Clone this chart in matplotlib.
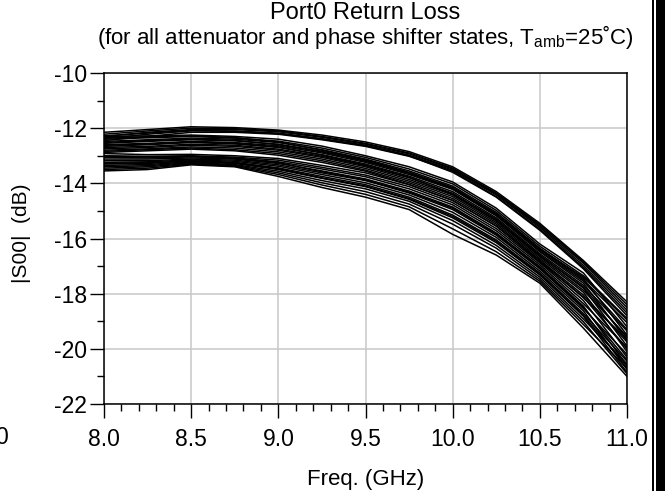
import numpy as np
import matplotlib
matplotlib.use('Agg')  # non-GUI backend
import matplotlib.pyplot as plt
from matplotlib.patches import Rectangle

plt.rcParams['font.family'] = ['Liberation Sans', 'DejaVu Sans']
plt.rcParams['mathtext.fontset'] = 'custom'
plt.rcParams['mathtext.rm'] = 'Liberation Sans'
plt.rcParams['axes.unicode_minus'] = False

# frequency points (GHz)
freq = [8.0, 8.25, 8.5, 8.75, 9.0, 9.25, 9.5, 9.75, 10.0, 10.25, 10.5, 10.75, 11.0]

# top band of states (|S00| in dB)
top_band = [
    [-12.15, -12.05, -11.95, -11.98, -12.07, -12.25, -12.50, -12.85, -13.40, -14.30, -15.45, -16.80, -18.30],
    [-12.22, -12.10, -12.00, -12.02, -12.10, -12.30, -12.55, -12.90, -13.45, -14.35, -15.50, -16.85, -18.40],
    [-12.30, -12.15, -12.05, -12.05, -12.13, -12.33, -12.58, -12.93, -13.48, -14.38, -15.55, -16.90, -18.50],
    [-12.38, -12.22, -12.10, -12.10, -12.18, -12.38, -12.62, -12.98, -13.52, -14.42, -15.60, -16.98, -18.60],
    [-12.45, -12.30, -12.15, -12.15, -12.22, -12.42, -12.66, -13.02, -13.56, -14.48, -15.66, -17.05, -18.70],
    [-12.28, -12.18, -12.08, -12.12, -12.20, -12.40, -12.64, -13.00, -13.60, -14.50, -15.70, -17.10, -18.80],
]

# upper part of the main bundle
upper_group = [
    [-12.30, -12.28, -12.25, -12.30, -12.40, -12.65, -13.00, -13.40, -13.95, -14.90, -16.20, -17.25, -19.20],
    [-12.40, -12.35, -12.30, -12.36, -12.47, -12.72, -13.06, -13.48, -14.02, -14.98, -16.28, -17.35, -18.90],
    [-12.48, -12.42, -12.36, -12.40, -12.52, -12.78, -13.12, -13.55, -14.10, -15.05, -16.35, -17.45, -19.50],
    [-12.55, -12.48, -12.42, -12.46, -12.58, -12.84, -13.18, -13.62, -14.16, -15.12, -16.40, -17.50, -19.05],
    [-12.60, -12.55, -12.48, -12.52, -12.64, -12.90, -13.24, -13.68, -14.22, -15.18, -16.48, -17.62, -19.70],
    [-12.66, -12.60, -12.52, -12.57, -12.70, -12.96, -13.30, -13.74, -14.30, -15.25, -16.55, -17.70, -19.35],
    [-12.70, -12.66, -12.58, -12.62, -12.76, -13.02, -13.36, -13.80, -14.36, -15.30, -16.60, -17.80, -19.90],
    [-12.75, -12.70, -12.62, -12.66, -12.80, -13.06, -13.40, -13.86, -14.42, -15.36, -16.66, -17.88, -19.55],
    [-12.80, -12.75, -12.68, -12.72, -12.86, -13.12, -13.46, -13.92, -14.48, -15.42, -16.72, -17.95, -20.10],
    [-12.84, -12.78, -12.72, -12.78, -12.92, -13.18, -13.52, -13.98, -14.55, -15.48, -16.78, -18.05, -19.75],
    [-12.88, -12.82, -12.76, -12.82, -12.98, -13.24, -13.56, -14.04, -14.62, -15.55, -16.85, -18.12, -20.00],
    [-12.52, -12.45, -12.40, -12.44, -12.60, -12.86, -13.20, -13.64, -14.20, -15.15, -16.45, -17.55, -19.30],
    [-12.35, -12.32, -12.28, -12.34, -12.50, -12.80, -13.15, -13.60, -14.15, -15.10, -16.38, -17.40, -18.95],
    [-12.62, -12.58, -12.50, -12.55, -12.68, -12.98, -13.34, -13.78, -14.40, -15.35, -16.62, -17.76, -19.60],
]

# lower part of the main bundle
lower_group = [
    [-12.92, -12.96, -12.95, -13.00, -13.10, -13.35, -13.62, -14.05, -14.62, -15.55, -16.80, -18.15, -19.65],
    [-13.00, -13.02, -13.00, -13.05, -13.16, -13.42, -13.70, -14.12, -14.70, -15.64, -16.88, -18.25, -20.30],
    [-13.06, -13.08, -13.04, -13.08, -13.22, -13.48, -13.76, -14.20, -14.78, -15.72, -16.95, -18.36, -19.95],
    [-13.12, -13.12, -13.08, -13.12, -13.28, -13.55, -13.84, -14.28, -14.86, -15.80, -17.02, -18.45, -20.60],
    [-13.18, -13.18, -13.12, -13.16, -13.33, -13.62, -13.90, -14.35, -14.95, -15.88, -17.10, -18.54, -20.20],
    [-13.24, -13.22, -13.15, -13.20, -13.38, -13.68, -13.98, -14.42, -15.05, -15.96, -17.18, -18.62, -20.75],
    [-13.30, -13.28, -13.18, -13.24, -13.44, -13.75, -14.05, -14.50, -15.15, -16.05, -17.25, -18.72, -20.45],
    [-13.35, -13.32, -13.22, -13.28, -13.50, -13.82, -14.12, -14.58, -15.25, -16.15, -17.32, -18.82, -20.85],
    [-13.40, -13.36, -13.25, -13.32, -13.56, -13.90, -14.20, -14.65, -15.35, -16.25, -17.40, -18.92, -20.55],
    [-13.45, -13.40, -13.28, -13.35, -13.62, -13.98, -14.30, -14.75, -15.48, -16.35, -17.48, -19.02, -20.90],
    [-13.50, -13.45, -13.30, -13.38, -13.68, -14.06, -14.40, -14.85, -15.65, -16.48, -17.55, -19.12, -20.70],
    [-13.55, -13.50, -13.33, -13.40, -13.75, -14.15, -14.50, -14.95, -15.85, -16.60, -17.62, -19.25, -21.00],
    [-13.02, -13.05, -13.02, -13.10, -13.25, -13.58, -13.88, -14.32, -14.90, -15.84, -17.05, -18.50, -20.40],
    [-13.28, -13.25, -13.20, -13.26, -13.47, -13.80, -14.10, -14.55, -15.20, -16.10, -17.30, -18.78, -20.65],
]

x_ticks = [8.0, 8.5, 9.0, 9.5, 10.0, 10.5, 11.0]
y_ticks = [-22, -20, -18, -16, -14, -12, -10]

W, H = 665, 491
fig = plt.figure(figsize=(W / 100, H / 100), dpi=100)
ax = fig.add_axes([104 / W, 1 - 404 / H, (627 - 104) / W, (404 - 73) / H])

for curve in top_band + upper_group + lower_group:
    ax.plot(freq, curve, color='black', lw=1.1)

ax.set_xlim(8.0, 11.0)
ax.set_ylim(-22, -10)
ax.set_xticks(x_ticks)
ax.set_xticklabels([f"{v:.1f}" for v in x_ticks])
ax.set_xticks(np.arange(8.0, 11.01, 0.1), minor=True)
ax.set_yticks(y_ticks)
ax.set_yticks(np.arange(-21, -10, 2), minor=True)
ax.grid(True, which='major', color='#c8c8c8', lw=1.1)
ax.set_axisbelow(True)
ax.tick_params(which='major', length=10, width=1.0, labelsize=16.5)
ax.tick_params(which='minor', length=5, width=1.0)
ax.tick_params(axis='x', which='major', pad=7)
ax.tick_params(axis='y', which='major', pad=2)
for s in ax.spines.values():
    s.set_linewidth(1.1)

cx = (104 + 627) / 2 / W
fig.text(cx, 1 - 13 / H, "Port0 Return Loss", ha='center', va='center', fontsize=17)
fig.text(cx, 1 - 37 / H, "(for all attenuator and phase shifter states, T$_{\\rm amb}$=25\u02daC)",
         ha='center', va='center', fontsize=16)
fig.text(cx, 1 - 480 / H, "Freq. (GHz)", ha='center', va='center', fontsize=16)
fig.text(22 / W, 1 - 233 / H, "|S00|  (dB)", ha='center', va='center', rotation=90, fontsize=15)

# cut-off label from the neighbouring panel and the frame on the right
fig.text(8 / W, 1 - 437 / H, "0", ha='right', va='center', fontsize=16.5)
fig.patches.append(Rectangle((652 / W, 0), 13 / W, 1, transform=fig.transFigure,
                             facecolor='black', edgecolor='none'))
fig.patches.append(Rectangle((654.3 / W, 0), 1.7 / W, 1, transform=fig.transFigure,
                             facecolor='white', edgecolor='none'))

fig.savefig("out.png", dpi=100)
